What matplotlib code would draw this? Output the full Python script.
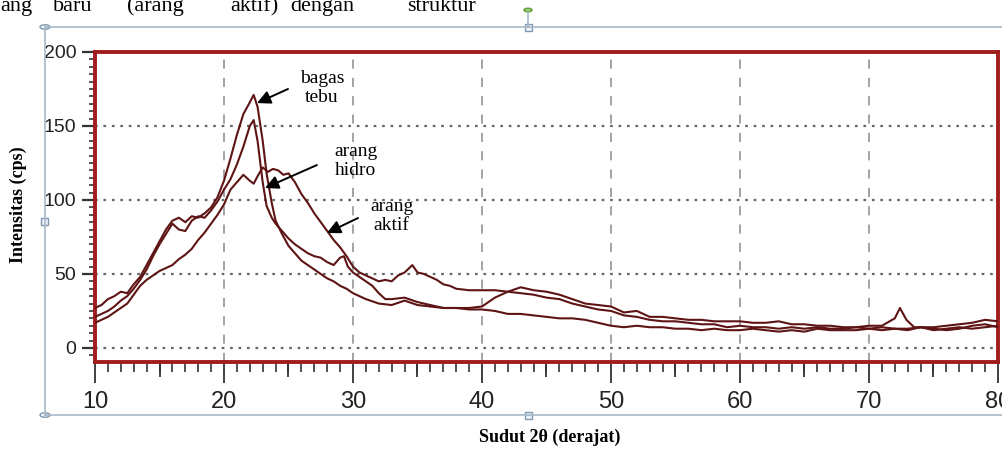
import matplotlib.pyplot as plt
from matplotlib.lines import Line2D
from matplotlib.patches import Circle, Rectangle
from matplotlib.ticker import MultipleLocator


# XRD pattern (2 theta in degrees, intensity in cps)
bagas_x = [10, 10.5, 11, 11.5, 12, 12.5, 13, 13.5, 14, 14.5, 15, 15.5, 16, 16.5, 17, 17.5, 18, 18.5, 19, 19.5,
           20, 20.5, 21, 21.5, 22, 22.3, 22.6, 23, 23.3, 23.7, 24, 24.5, 25, 25.5, 26, 26.5, 27, 27.5, 28, 28.5,
           29, 29.5, 30, 31, 32, 33, 34, 35, 36, 37, 38, 39, 40, 41, 42, 43, 44, 45, 46, 47, 48, 49, 50,
           51, 52, 53, 54, 55, 56, 57, 58, 59, 60, 61, 62, 63, 64, 65, 66, 67, 68, 69, 70,
           71, 72, 73, 74, 75, 76, 77, 78, 79, 80]
bagas_y = [27, 29, 33, 35, 38, 37, 43, 48, 56, 64, 72, 80, 86, 88, 85, 89, 88, 91, 95, 102,
           113, 128, 144, 158, 166, 171, 163, 140, 118, 98, 86, 77, 69, 64, 59, 56, 53, 50, 47, 45,
           42, 40, 37, 33, 30, 29, 32, 29, 28, 27, 27, 26, 26, 25, 23, 23, 22, 21, 20, 20, 19, 17, 15,
           14, 15, 14, 14, 13, 13, 12, 13, 12, 12, 13, 12, 11, 12, 11, 13, 12, 12, 12, 13,
           14, 13, 13, 14, 12, 13, 14, 13, 14, 15]

hidro_x = [10, 10.5, 11, 11.5, 12, 12.5, 13, 13.5, 14, 14.5, 15, 15.5, 16, 16.5, 17, 17.5, 18, 18.5, 19, 19.5,
           20, 20.5, 21, 21.5, 22, 22.3, 22.6, 23, 23.3, 23.7, 24, 24.5, 25, 25.5, 26, 26.5, 27, 27.5, 28, 28.5,
           29, 29.3, 29.6, 30, 30.5, 31, 31.5, 32, 32.5, 33, 34, 35, 36, 37, 38, 39, 40, 41, 42, 43, 44, 45,
           46, 47, 48, 49, 50, 51, 52, 53, 54, 55, 56, 57, 58, 59, 60, 61, 62, 63, 64, 65, 66, 67, 68, 69,
           70, 71, 72, 72.4, 72.9, 73.5, 74, 75, 76, 77, 78, 79, 80]
hidro_y = [21, 23, 25, 28, 32, 35, 40, 46, 53, 62, 70, 77, 84, 80, 79, 86, 89, 88, 93, 99,
           107, 114, 124, 136, 150, 154, 140, 112, 96, 88, 84, 79, 74, 70, 67, 64, 62, 61, 58, 56,
           61, 62, 55, 51, 48, 45, 42, 37, 33, 33, 34, 31, 29, 27, 27, 27, 28, 34, 38, 41, 39, 38,
           36, 33, 30, 29, 28, 24, 25, 21, 21, 20, 19, 19, 18, 18, 18, 17, 17, 18, 16, 16, 15, 15, 14, 14,
           15, 15, 20, 27, 19, 14, 14, 14, 15, 16, 17, 19, 18]

aktif_x = [10, 10.5, 11, 11.5, 12, 12.5, 13, 13.5, 14, 14.5, 15, 15.5, 16, 16.5, 17, 17.5, 18, 18.5, 19, 19.5,
           20, 20.5, 21, 21.5, 22, 22.3, 22.6, 23, 23.4, 23.8, 24.2, 24.6, 25, 25.5, 26, 26.5, 27, 27.5, 28, 28.5,
           29, 29.5, 30, 30.5, 31, 31.5, 32, 32.5, 33, 33.5, 34, 34.6, 35, 35.5, 36, 36.5, 37, 37.5, 38, 39,
           40, 41, 42, 43, 44, 45, 46, 47, 48, 49, 50, 51, 52, 53, 54, 55, 56, 57, 58, 59,
           60, 61, 62, 63, 64, 65, 66, 67, 68, 69, 70, 71, 72, 73, 74, 75, 76, 77, 78, 79, 80]
aktif_y = [17, 19, 21, 24, 27, 30, 36, 42, 46, 49, 52, 54, 56, 60, 63, 67, 73, 78, 84, 90,
           97, 107, 112, 117, 113, 111, 116, 122, 119, 121, 120, 117, 118, 112, 104, 98, 91, 85, 79, 73,
           68, 62, 55, 51, 49, 47, 45, 46, 45, 49, 51, 56, 51, 50, 48, 46, 43, 42, 40, 39,
           39, 39, 38, 37, 36, 34, 33, 30, 28, 26, 25, 22, 21, 19, 18, 18, 17, 16, 16, 14,
           15, 14, 14, 13, 14, 13, 14, 13, 13, 14, 13, 12, 13, 12, 14, 13, 12, 13, 15, 16, 14]

y_ticks = [0, 50, 100, 150, 200]
x_ticks = [10, 20, 30, 40, 50, 60, 70, 80]

LINE = "#5e1414"
FRAME = "#a11c1c"
SANS = ["Liberation Sans", "DejaVu Sans"]
SERIF = ["Liberation Serif", "DejaVu Serif"]

W, H = 1003, 450
fig = plt.figure(figsize=(W / 100, H / 100), dpi=100)


def fx(px):
    return px / W


def fy(py):
    return 1 - py / H


ax = fig.add_axes([fx(95), fy(362), fx(998) - fx(95), fy(52) - fy(362)])
ax.set_xlim(10, 80)
ax.set_ylim(-9.5, 200)

for xs, ys in [(bagas_x, bagas_y), (hidro_x, hidro_y), (aktif_x, aktif_y)]:
    ax.plot(xs, ys, color=LINE, lw=1.5, zorder=3)

# grid: dashed verticals, dotted horizontals
for v in x_ticks[1:-1]:
    ax.axvline(v, color="#8a8a8a", lw=1.1, ls=(0, (6, 6)), zorder=1)
for h in y_ticks[:-1]:
    ax.axhline(h, color="#666666", lw=1.6, ls=(0, (1.2, 2.6)), zorder=1)

for s in ax.spines.values():
    s.set_color(FRAME)
    s.set_linewidth(2.8)

ax.set_xticks(x_ticks)
ax.set_yticks(y_ticks)
ax.xaxis.set_minor_locator(MultipleLocator(1))
ax.yaxis.set_minor_locator(MultipleLocator(5))
ax.tick_params(axis="x", which="major", direction="out", length=15, width=1.3, color="#333333", pad=6,
               labelsize=17, labelcolor="#222222")
ax.tick_params(axis="x", which="minor", direction="out", length=7, width=1.2, color="#333333")
ax.tick_params(axis="y", which="major", direction="out", length=9.5, width=1.6, color="#333333", pad=4,
               labelsize=14, labelcolor="#222222")
ax.tick_params(axis="y", which="minor", direction="out", length=4.5, width=1.2, color="#333333")
for lab in ax.get_xticklabels() + ax.get_yticklabels():
    lab.set_family(SANS)

# medium ticks at the fives
sec = ax.secondary_xaxis("bottom")
sec.set_xticks([15, 25, 35, 45, 55, 65, 75])
sec.tick_params(direction="out", length=11, width=1.3, color="#333333", labelbottom=False)
sec.spines["bottom"].set_visible(False)

arrow = dict(arrowstyle="-|>", color="black", lw=1.4, mutation_scale=20, shrinkA=0, shrinkB=0)
ax.annotate("", xy=(22.56, 165.5), xytext=(24.96, 175), arrowprops=arrow, zorder=5)
ax.annotate("", xy=(23.18, 108.1), xytext=(27.2, 123.6), arrowprops=arrow, zorder=5)
ax.annotate("", xy=(27.98, 77.7), xytext=(30.39, 87.8), arrowprops=arrow, zorder=5)
ax.text(27.6, 175.5, "bagas\ntebu", ha="center", va="center", fontsize=14, family=SERIF, linespacing=1.15)
ax.text(30.2, 126.5, "arang\nhidro", ha="center", va="center", fontsize=14, family=SERIF, linespacing=1.15)
ax.text(33.0, 89.0, "arang\naktif", ha="center", va="center", fontsize=14, family=SERIF, linespacing=1.15)

fig.text(fx(550), fy(437), "Sudut 2θ (derajat)", ha="center", va="center", fontsize=13,
         fontweight="bold", family=SERIF)
fig.text(fx(18), fy(205), "Intensitas (cps)", ha="center", va="center", rotation=90, fontsize=13,
         fontweight="bold", family=SERIF)

# the word-processor selection box around the picture
box = "#a8b8c8"
for seg in [((45, 45), (27, 415)), ((45, W), (27, 27)), ((45, W), (415, 415)), ((528, 528), (12, 27))]:
    fig.add_artist(Line2D([fx(p) for p in seg[0]], [fy(p) for p in seg[1]], color=box, lw=1.2))
for cx, cy in [(45, 27), (45, 415)]:
    fig.add_artist(Circle((fx(cx), fy(cy)), 5 / W, transform=fig.transFigure, facecolor="#eef4fa",
                          edgecolor="#7f98b0", lw=1))
for cx, cy in [(528, 27), (45, 222), (528, 415)]:
    fig.add_artist(Rectangle((fx(cx - 3.5), fy(cy + 3.5)), 7 / W, 7 / H, transform=fig.transFigure,
                             facecolor="#eef4fa", edgecolor="#7f98b0", lw=1))
fig.add_artist(Circle((fx(528), fy(10)), 4 / W, transform=fig.transFigure, facecolor="#9ad06a",
                      edgecolor="#5c9a3a", lw=1))

# cut-off line of body text above the picture
for wx, word in [(0, "ang"), (53, "baru"), (127, "(arang"), (230, "aktif)"), (290, "dengan"), (407, "struktur")]:
    fig.text(fx(wx), fy(11), word, ha="left", va="baseline", fontsize=16, family=SERIF)

fig.savefig("out.png", dpi=100)
